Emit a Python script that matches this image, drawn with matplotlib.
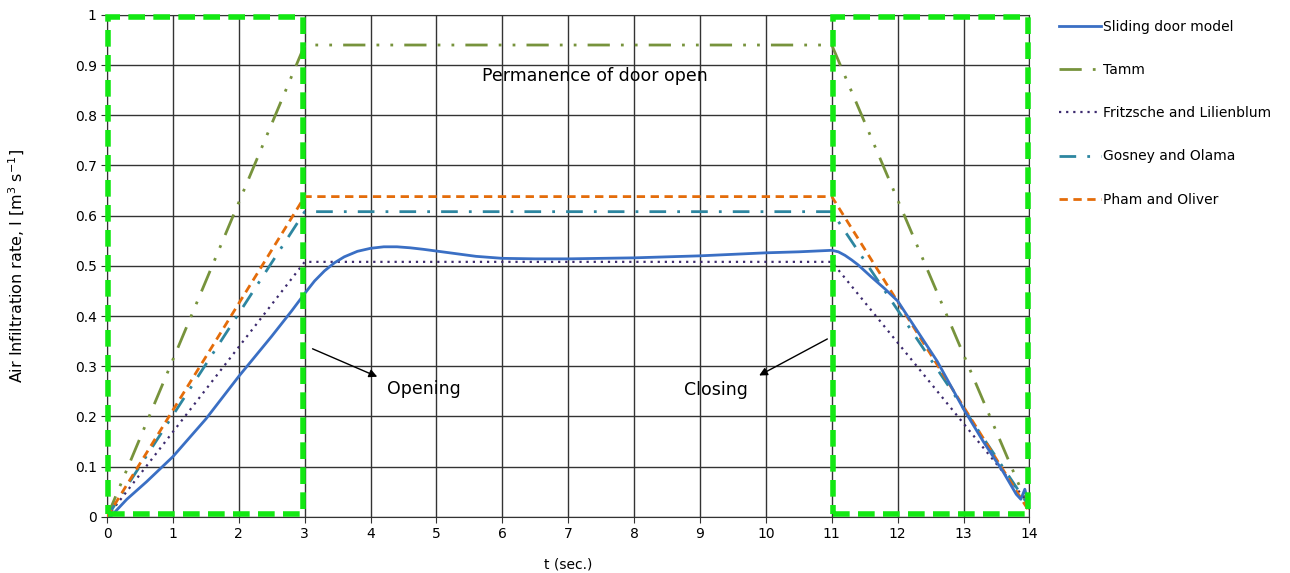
import matplotlib
matplotlib.use("Agg")
import matplotlib.pyplot as plt
from matplotlib.patches import Rectangle

# ---- data ----
t_model = [0.05, 0.3, 0.6, 1.0, 1.5, 2.0, 2.5, 2.8, 3.0, 3.15, 3.3, 3.45, 3.6, 3.8, 4.0, 4.2,
           4.4, 4.6, 4.8, 5.2, 5.6, 6.0, 6.5, 7.0, 7.5, 8.0, 8.5, 9.0, 9.5, 10.0, 10.5, 11.0,
           11.1, 11.2, 11.3, 11.4, 11.5, 11.6, 11.8, 12.0, 12.3, 12.6, 13.0, 13.3, 13.6, 13.8,
           13.87, 13.93, 13.97]
model = [0.0, 0.035, 0.07, 0.12, 0.195, 0.28, 0.36, 0.41, 0.445, 0.47, 0.49, 0.506, 0.518,
         0.529, 0.535, 0.538, 0.538, 0.536, 0.533, 0.526, 0.519, 0.515, 0.514, 0.514, 0.515,
         0.516, 0.518, 0.52, 0.523, 0.526, 0.528, 0.531, 0.528, 0.521, 0.512, 0.502, 0.49,
         0.478, 0.455, 0.43, 0.37, 0.31, 0.215, 0.15, 0.09, 0.045, 0.035, 0.055, 0.035]

t_ref = [0.0, 3.0, 11.0, 14.0]
tamm = [0.0, 0.94, 0.94, 0.015]
fritzsche = [0.0, 0.508, 0.508, 0.025]
gosney = [0.0, 0.608, 0.608, 0.02]
pham = [0.0, 0.638, 0.638, 0.01]

labels = ["Sliding door model", "Tamm", "Fritzsche and Lilienblum", "Gosney and Olama", "Pham and Oliver"]
x_ticks = list(range(0, 15))
y_ticks = [0, 0.1, 0.2, 0.3, 0.4, 0.5, 0.6, 0.7, 0.8, 0.9, 1]
y_tick_labels = ["0", "0.1", "0.2", "0.3", "0.4", "0.5", "0.6", "0.7", "0.8", "0.9", "1"]

plt.rcParams['font.family'] = ['DejaVu Sans']

fig = plt.figure(figsize=(12.9, 5.73), dpi=100)
ax = fig.add_axes([0.083, 0.098, 0.715, 0.876])

ax.set_xlim(0, 14)
ax.set_ylim(0, 1)
ax.set_xticks(x_ticks)
ax.set_yticks(y_ticks)
ax.set_yticklabels(y_tick_labels)
ax.grid(True, color="#333333", linewidth=1.0)
ax.set_axisbelow(True)
for s in ax.spines.values():
    s.set_color("#333333")
ax.tick_params(labelsize=10, length=4, color="#333333")

ax.plot(t_model, model, color="#3a6fc4", lw=2.0, label=labels[0], zorder=5)
ax.plot(t_ref, tamm, color="#77933C", lw=2.0, dashes=(8, 4, 1, 4, 1, 4), label=labels[1], zorder=4)
ax.plot(t_ref, fritzsche, color="#3c2a6e", lw=1.6, dashes=(1, 2.2), label=labels[2], zorder=4)
ax.plot(t_ref, gosney, color="#2d86a0", lw=2.0, dashes=(6, 4, 1, 4), label=labels[3], zorder=4)
ax.plot(t_ref, pham, color="#e46c0a", lw=2.0, dashes=(3, 2), label=labels[4], zorder=4)

for x0 in (0.0, 11.0):
    ax.add_patch(Rectangle((x0 + 0.02, 0.005), 2.96, 0.99, fill=False, edgecolor="#13e813",
                           lw=4, linestyle=(0, (3, 1.5)), zorder=6, clip_on=False))

ax.text(7.4, 0.878, "Permanence of door open", fontsize=12.5, ha="center", va="center")
ax.text(4.25, 0.255, "Opening", fontsize=12.5, ha="left", va="center")
ax.text(8.75, 0.253, "Closing", fontsize=12.5, ha="left", va="center")
ax.annotate("", xy=(4.14, 0.277), xytext=(3.08, 0.337),
            arrowprops=dict(arrowstyle="-|>", color="black", lw=1, mutation_scale=12))
ax.annotate("", xy=(9.86, 0.279), xytext=(10.97, 0.357),
            arrowprops=dict(arrowstyle="-|>", color="black", lw=1, mutation_scale=12))

ax.set_xlabel("t (sec.)", fontsize=10, labelpad=12)
ax.set_ylabel("Air Infiltration rate, I [m$^3$ s$^{-1}$]", fontsize=11.5, labelpad=34,
              family=["Liberation Sans Narrow", "DejaVu Sans"])

fig.legend(loc="upper left", bbox_to_anchor=(0.817, 0.975), frameon=False, fontsize=10,
           handlelength=3.0, handletextpad=0.1, labelspacing=2.1, borderaxespad=0)

fig.savefig("out.png", dpi=100)
